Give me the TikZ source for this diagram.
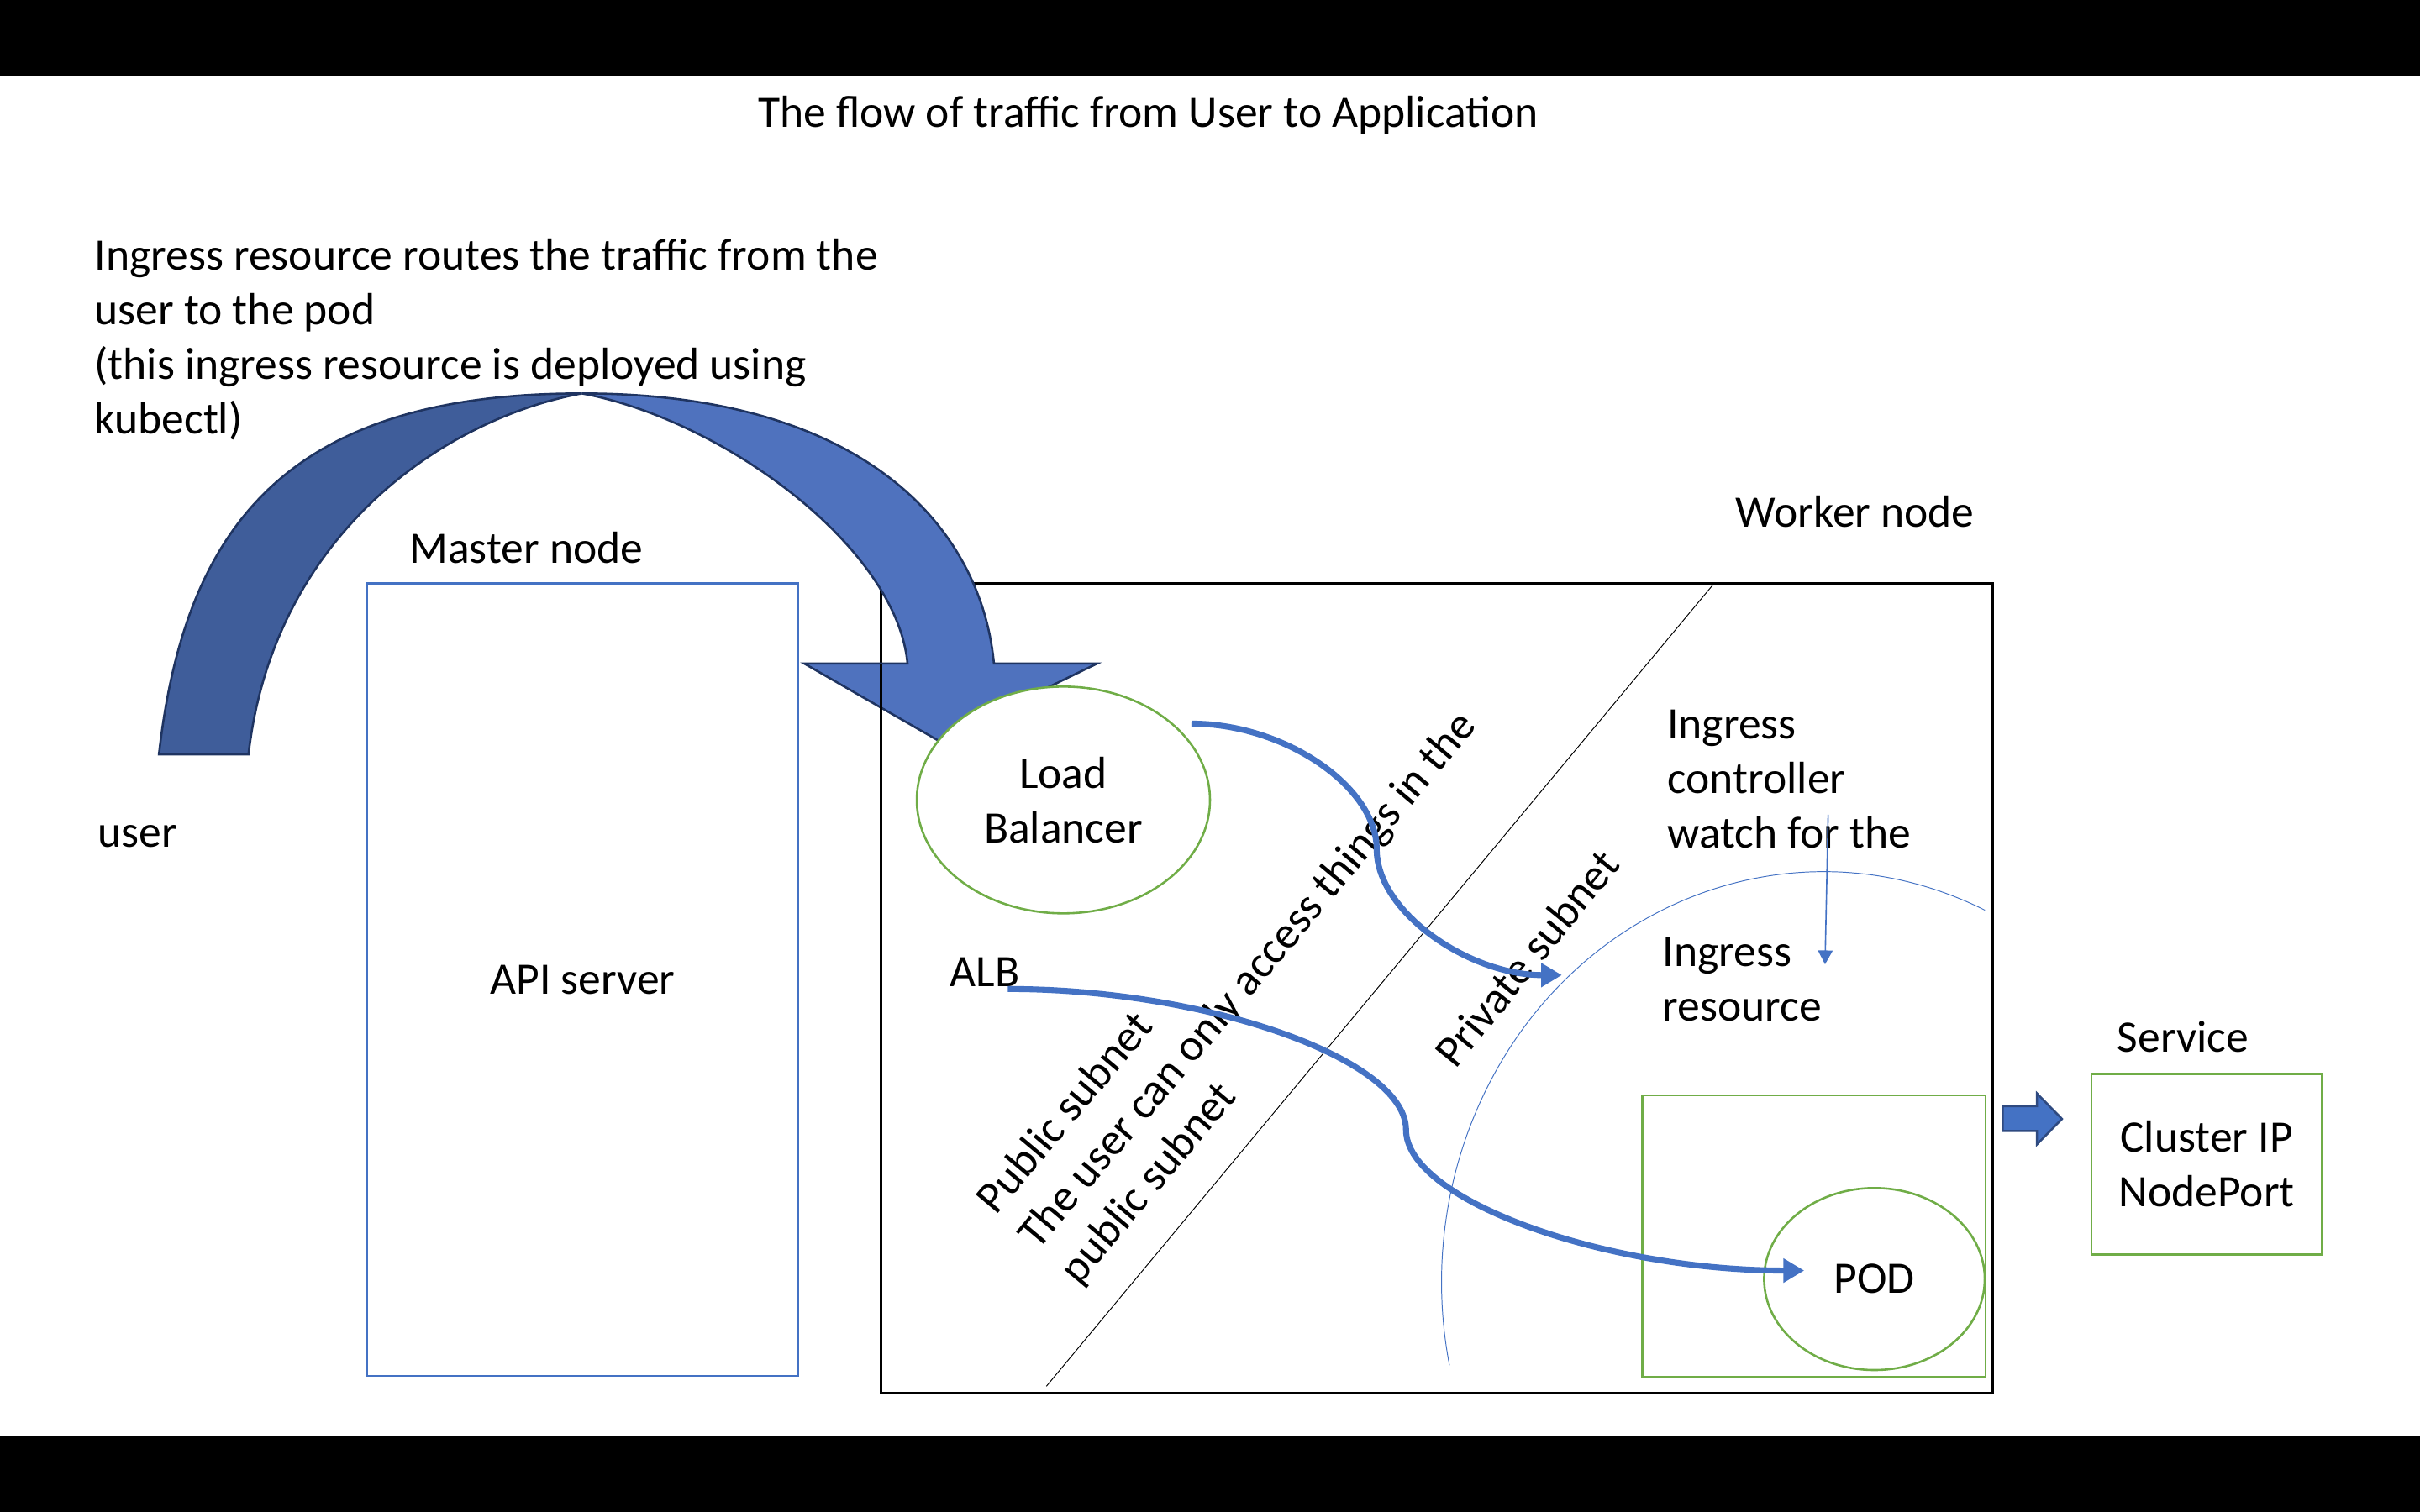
\documentclass[tikz,border=0pt]{standalone}
\usepackage{fontspec}
\setmainfont{Carlito}
\usepackage{tikz}
\usetikzlibrary{shapes.geometric, arrows.meta, calc}
\definecolor{msblue}{HTML}{4472C4}
\definecolor{msgreen}{HTML}{70AD47}
\definecolor{navy}{HTML}{1F3461}
\definecolor{arcback}{HTML}{3F5D9A}
\definecolor{arcfront}{HTML}{4F72BE}
\definecolor{blockedge}{HTML}{2F4A80}
\newcommand{\dgfont}{\fontsize{16.6pt}{20.1pt}\selectfont}
\tikzset{
  txt/.style={font=\dgfont, inner sep=0pt},
  bluebox/.style={rectangle, draw=msblue, line width=0.7pt, outer sep=0pt, font=\dgfont},
  blackbox/.style={rectangle, draw=black, line width=0.9pt, outer sep=0pt},
  greenbox/.style={rectangle, draw=msgreen, line width=0.8pt, outer sep=0pt, font=\dgfont, align=center},
  greenoval/.style={ellipse, draw=msgreen, line width=0.8pt, fill=white, inner sep=0pt, outer sep=0pt, font=\dgfont, align=center},
  flowarrow/.style={draw=msblue, line width=2.2pt, -{Triangle[length=0.27cm, width=0.3cm]}},
  thinarrow/.style={draw=msblue, line width=0.5pt, -{Triangle[length=0.18cm, width=0.19cm]}},
  thinline/.style={line width=0.3pt},
  backhalf/.style={fill=arcback, draw=navy, line width=0.8pt},
  fronthalf/.style={fill=arcfront, draw=navy, line width=0.8pt},
  blockarrow/.style={fill=msblue, draw=blockedge, line width=0.8pt},
}

\begin{document}
\begin{tikzpicture}[x=0.02cm, y=-0.02cm]
% page and black bars
\useasboundingbox (0,0) rectangle (1568,980);
\fill[white] (0,0) rectangle (1568,980);
\fill[black] (0,0) rectangle (1568,49);
\fill[black] (0,931) rectangle (1568,980);

% boxes
\node[bluebox, minimum width=5.58cm, minimum height=10.28cm] (master) at (377.5,635) {API server};
\node[blackbox, minimum width=14.4cm, minimum height=10.5cm] (worker) at (931,640.5) {};
\node[greenbox, minimum width=4.45cm, minimum height=3.65cm] (podbox) at (1175.25,801.25) {};
\node[greenbox, minimum width=2.99cm, minimum height=2.34cm] (service) at (1429.75,754.5) {Cluster IP\\NodePort};

% subnet border and private ring
\draw[thinline] (678,898.5) -- (1110.7,378);
\draw[thinline, msblue] (1181.5,831) ++(-65:247.5 and 266)
  arc[start angle=-65, end angle=-191.7, x radius=247.5, y radius=266];

% curved ingress arrow
\coordinate (headbase) at (521,430);
\draw[backhalf] (103,489) .. controls (120,337) and (190,255) .. (377,255)
  .. controls (285,272) and (177,349) .. (161,489) -- cycle;
\draw[fronthalf] (377,255) .. controls (564,255) and (636,345) .. (644,430)
  -- (711,430) -- (608,480) -- (headbase) -- (588,430)
  .. controls (581,355) and (469,272) .. (377,255) -- cycle;
\draw[blackbox] (worker.west |- headbase) -- (worker.south west);

\node[greenoval, minimum width=3.8cm, minimum height=2.94cm] (lb) at (689,518.5) {Load\\Balancer};
\node[greenoval, minimum width=2.86cm, minimum height=2.36cm] (pod) at (1214.5,829) {POD};

% labels
\node[txt] (title) at (744,74.5) {The flow of traffic from User to Application};
\node[txt, anchor=west, align=left] (note) at (61,220) {Ingress resource routes the traffic from the\\user to the pod\\(this ingress resource is deployed using\\kubectl)};
\node[txt] (mastertitle) at (341,355) {Master node};
\node[txt] (user) at (89,542) {user};
\node[txt] (workertitle) at (1202,331.5) {Worker node};
\node[txt] (alb) at (638,630) {ALB};
\node[txt, anchor=west, align=left] (watch) at (1080,505) {Ingress\\controller\\watch for the};
\node[txt, anchor=west, align=left] (ingres) at (1077,635) {Ingress\\resource};
\node[txt] (servicetitle) at (1414.5,672) {Service};
\node[txt, rotate=51] (private) at (989,621) {Private subnet};
\node[txt, rotate=50, align=left] (public) at (809,636) {Public subnet\\The user can only access things in the\\public subnet};

% traffic connectors
\coordinate (lbout) at (772,469);
\coordinate (privin) at (1012,632);
\coordinate (albout) at (653,641);
\coordinate (podin) at (1169,823.5);
\draw[flowarrow] (lbout) .. controls +(60,0) and +(0,-40.75) .. ($(lbout)!.5!(privin)$)
  .. controls +(0,40.75) and +(-60,0) .. (privin);
\draw[flowarrow] (albout) .. controls +(129,0) and +(0,-45.6) .. ($(albout)!.5!(podin)$)
  .. controls +(0,45.6) and +(-129,0) .. (podin);

\coordinate (watchtop) at (1184.5,528);
\coordinate (watchtip) at (1182.5,625);
\draw[thinarrow] (watchtop) -- (watchtip);

% pod to service
\draw[blockarrow] (1297.6,717) -- (1319.8,717) -- (1319.8,708.7) -- (1336,725.2)
  -- (1319.8,741.7) -- (1319.8,733) -- (1297.6,733) -- cycle;
\end{tikzpicture}
\end{document}
